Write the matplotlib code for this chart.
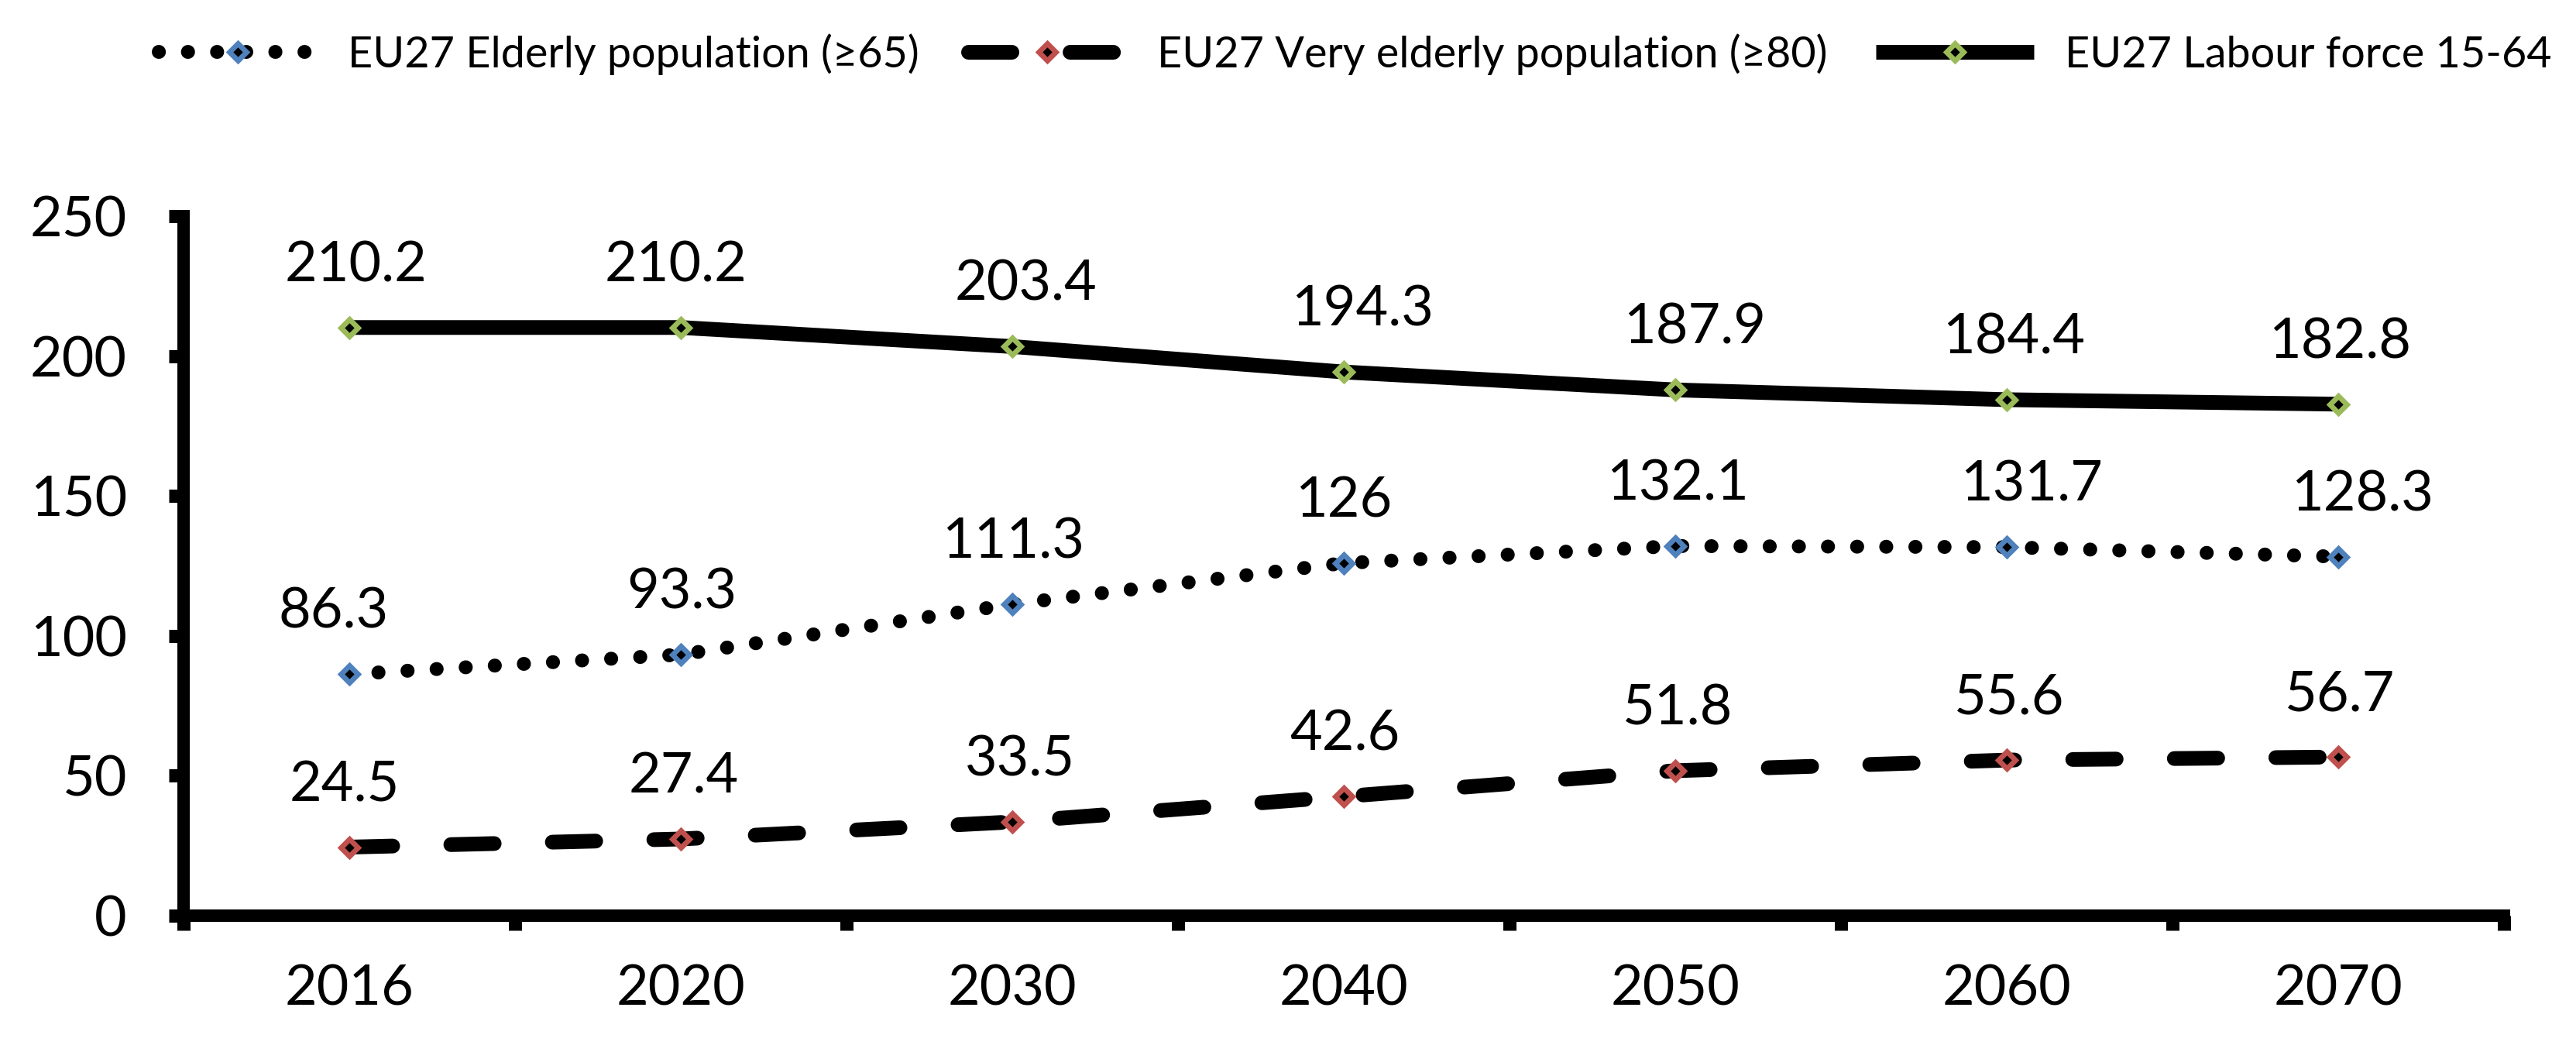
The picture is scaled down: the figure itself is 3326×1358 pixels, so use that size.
import numpy as np
import matplotlib
matplotlib.use("Agg")
import matplotlib.pyplot as plt


#### Data

YEARS = ["2016", "2020", "2030", "2040", "2050", "2060", "2070"]
ELDERLY = [86.3, 93.3, 111.3, 126, 132.1, 131.7, 128.3]
VERY_ELDERLY = [24.5, 27.4, 33.5, 42.6, 51.8, 55.6, 56.7]
LABOUR_FORCE = [210.2, 210.2, 203.4, 194.3, 187.9, 184.4, 182.8]

LABELS = [
    "EU27 Elderly population (\u226565)",
    "EU27 Very elderly population (\u226580)",
    "EU27 Labour force 15-64",
]

# small horizontal nudges of the value labels (points)
ELDERLY_DX = [-20, 1, 1, 0, 3, 32, 31]
VERY_ELDERLY_DX = [-6, 4, 10, 1, 3, 3, 2]
LABOUR_DX = [9, -6, 18, 24, 25, 9, 2]

#### Style

W, H = 3326, 1358
DPI = 72  # 1 pt == 1 px
FONT = ["Lato", "DejaVu Sans"]
BLUE, RED, GREEN = "#4F81BD", "#C0504D", "#9BBB59"
LEGEND_SIZE = 55.7

plt.rcParams["font.family"] = FONT


def add_series(ax, values, label, color, lw, ls):
    x = np.arange(len(values))
    line, = ax.plot(x, values, color="black", lw=lw, linestyle=ls,
                    dash_capstyle="round", solid_capstyle="butt",
                    marker="D", markersize=16, markerfacecolor="black",
                    markeredgecolor=color, markeredgewidth=6.8,
                    label=label, zorder=3)
    return line


def add_labels(ax, values, offsets):
    for i, (v, dx) in enumerate(zip(values, offsets)):
        ax.annotate(f"{v:g}", (i, v), xytext=(dx, 80), textcoords="offset points",
                    ha="center", va="center", fontsize=72, color="black")


def main():
    fig = plt.figure(figsize=(W / DPI, H / DPI), dpi=DPI)
    ax = fig.add_axes([237 / W, 1 - 1182 / H, (3233 - 237) / W, (1182 - 279) / H])

    h1 = add_series(ax, ELDERLY, LABELS[0], BLUE, 18, (0, (0.01, 2.08)))
    h2 = add_series(ax, VERY_ELDERLY, LABELS[1], RED, 19, (0, (2.95, 3.95)))
    h3 = add_series(ax, LABOUR_FORCE, LABELS[2], GREEN, 19, "-")

    add_labels(ax, ELDERLY, ELDERLY_DX)
    add_labels(ax, VERY_ELDERLY, VERY_ELDERLY_DX)
    add_labels(ax, LABOUR_FORCE, LABOUR_DX)

    ax.set_xlim(-0.5, len(YEARS) - 0.5)
    ax.set_ylim(0, 250)
    ax.set_yticks(np.arange(0, 251, 50))

    # category boundaries carry the tick marks, centres carry the labels
    ax.set_xticks(np.arange(-0.5, len(YEARS), 1))
    ax.set_xticklabels([])
    ax.set_xticks(np.arange(len(YEARS)), minor=True)
    ax.set_xticklabels(YEARS, minor=True)

    for side in ("top", "right"):
        ax.spines[side].set_visible(False)
    for side in ("left", "bottom"):
        ax.spines[side].set_linewidth(16)
        ax.spines[side].set_capstyle("projecting")

    ax.tick_params(axis="both", which="major", direction="out", length=19, width=17,
                   labelsize=72, color="black")
    ax.tick_params(axis="y", pad=54)
    ax.tick_params(axis="x", which="minor", length=0, labelsize=72, pad=62)

    fs = LEGEND_SIZE
    fig.legend(handles=[h1, h2, h3], loc="center left", bbox_to_anchor=(205 / W, 1 - 70 / H),
               ncol=3, frameon=False, fontsize=fs, numpoints=1,
               handlelength=204 / fs, handletextpad=40 / fs, columnspacing=63 / fs,
               borderpad=0, borderaxespad=0)

    fig.savefig("out.png", dpi=DPI, facecolor="white")


if __name__ == "__main__":
    main()
